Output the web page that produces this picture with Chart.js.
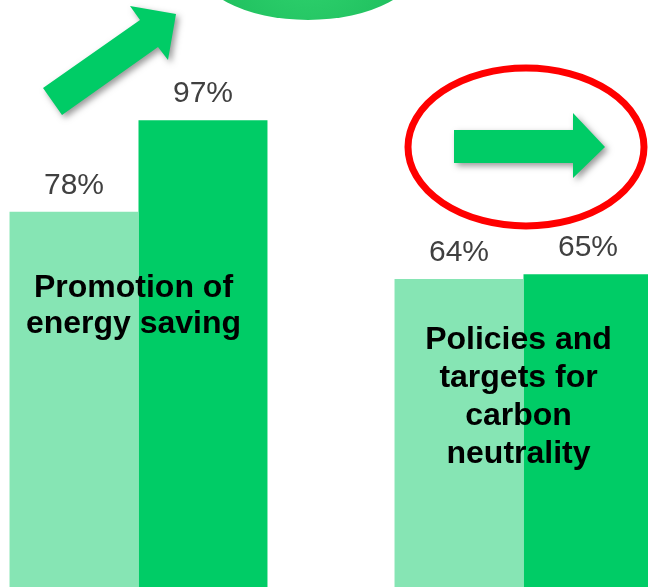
<!DOCTYPE html>
<html lang="en">
<head>
<meta charset="UTF-8">
<title>Energy saving and carbon neutrality</title>
<script src="https://cdn.jsdelivr.net/npm/chart.js"></script>
<style>
    html, body { margin: 0; padding: 0; background: #fff; overflow: hidden; }
    #wrap { position: relative; width: 648px; height: 587px; overflow: hidden; }
    #chart { position: absolute; left: -54px; top: 0; }
</style>
</head>
<body>
<div id="wrap">
    <canvas id="chart" width="770" height="587"></canvas>
</div>
<script>
    // data
    const categories = [
        ['Promotion of', 'energy saving'],
        ['Policies and', 'targets for', 'carbon', 'neutrality']
    ];
    const earlierValues = [78, 64];
    const laterValues = [97, 65];

    const OFFSET_X = 54;   // canvas is shifted left so the groups sit where they do in the picture
    const FONT = '"Liberation Sans", Arial, sans-serif';

    // percent labels above every bar, group captions inside the bars
    const labelPlugin = {
        id: 'labels',
        afterDatasetsDraw(chart) {
            const ctx = chart.ctx;
            ctx.save();
            ctx.fillStyle = '#404040';
            ctx.font = '30px ' + FONT;
            ctx.textAlign = 'center';
            ctx.textBaseline = 'alphabetic';
            chart.data.datasets.forEach((ds, di) => {
                chart.getDatasetMeta(di).data.forEach((bar, i) => {
                    ctx.fillText(ds.data[i] + '%', bar.x, bar.y - 18);
                });
            });

            const x = chart.scales.x;
            const firstBaseline = [297, 349];
            const lineStep = [36, 38];
            ctx.fillStyle = '#000';
            ctx.font = 'bold 32px ' + FONT;
            categories.forEach((lines, i) => {
                const cx = x.getPixelForValue(i) - 5;
                lines.forEach((t, j) => {
                    ctx.fillText(t, cx, firstBaseline[i] + j * lineStep[i]);
                });
            });
            ctx.restore();
        }
    };

    // arrows and ellipses drawn over the chart
    const decorPlugin = {
        id: 'decor',
        afterDraw(chart) {
            const ctx = chart.ctx;
            ctx.save();
            ctx.translate(OFFSET_X, 0);

            // big green ellipse cut by the top edge
            const g = ctx.createRadialGradient(308, -40, 20, 308, -40, 118);
            g.addColorStop(0, '#2dd06c');
            g.addColorStop(0.85, '#1fbf5e');
            g.addColorStop(1, '#149e49');
            ctx.fillStyle = g;
            ctx.beginPath();
            ctx.ellipse(308, -40, 114, 60, 0, 0, Math.PI * 2);
            ctx.fill();

            ctx.shadowColor = 'rgba(0,0,0,0.4)';
            ctx.shadowBlur = 6;
            ctx.shadowOffsetX = 3;
            ctx.shadowOffsetY = 3;
            ctx.fillStyle = '#00cc66';

            const poly = pts => {
                ctx.beginPath();
                pts.forEach((p, k) => k ? ctx.lineTo(p[0], p[1]) : ctx.moveTo(p[0], p[1]));
                ctx.closePath();
                ctx.fill();
            };
            // diagonal arrow
            poly([[43, 88], [140, 20], [130, 6], [176, 14], [168, 60], [158, 47], [62, 115]]);
            // flat arrow
            poly([[454, 130], [573, 130], [573, 113], [605, 147], [573, 178], [573, 163], [454, 163]]);

            ctx.shadowColor = 'transparent';
            ctx.strokeStyle = '#ff0000';
            ctx.lineWidth = 7;
            ctx.beginPath();
            ctx.ellipse(526, 147, 118, 79, 0, 0, Math.PI * 2);
            ctx.stroke();
            ctx.restore();
        }
    };

    new Chart(document.getElementById('chart'), {
        type: 'bar',
        data: {
            labels: categories.map(c => c.join(' ')),
            datasets: [
                { data: earlierValues, backgroundColor: '#86e5b4' },
                { data: laterValues, backgroundColor: '#00cc66' }
            ]
        },
        options: {
            responsive: false,
            animation: false,
            events: [],
            layout: { padding: 0 },
            datasets: { bar: { barPercentage: 1, categoryPercentage: 0.67, borderWidth: 0 } },
            scales: {
                x: { display: false },
                y: { display: false, min: 0, max: 122 }
            },
            plugins: {
                legend: { display: false },
                tooltip: { enabled: false }
            }
        },
        plugins: [labelPlugin, decorPlugin]
    });
</script>
</body>
</html>
